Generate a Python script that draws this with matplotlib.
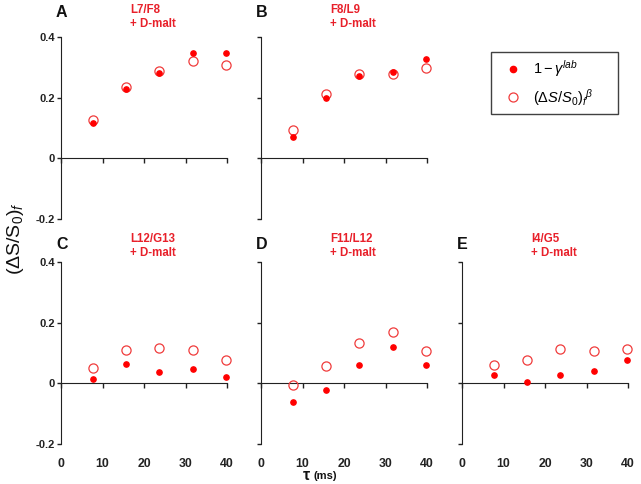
import numpy as np
import matplotlib
matplotlib.use('Agg')
import matplotlib.pyplot as plt
from matplotlib.lines import Line2D

plt.rcParams['font.family'] = ['Liberation Sans', 'DejaVu Sans']
plt.rcParams['mathtext.fontset'] = 'custom'
plt.rcParams['mathtext.rm'] = 'Liberation Sans'
plt.rcParams['mathtext.it'] = 'Liberation Sans:italic'
plt.rcParams['mathtext.bf'] = 'Liberation Sans:bold'

# mixing times (ms)
tau = [7.8, 15.7, 23.7, 31.7, 39.7]

panel_letters = ['A', 'B', 'C', 'D', 'E']
panel_titles = ['L7/F8\n+ D-malt', 'F8/L9\n+ D-malt', 'L12/G13\n+ D-malt',
                'F11/L12\n+ D-malt', 'I4/G5\n+ D-malt']

# 1 - gamma^lab (filled)
lab_A = [0.116, 0.229, 0.282, 0.347, 0.347]
lab_B = [0.070, 0.200, 0.272, 0.283, 0.327]
lab_C = [0.014, 0.063, 0.036, 0.046, 0.021]
lab_D = [-0.061, -0.022, 0.060, 0.121, 0.060]
lab_E = [0.026, 0.003, 0.026, 0.040, 0.076]

# (dS/S0)_f^beta (open)
beta_A = [0.125, 0.235, 0.287, 0.320, 0.308]
beta_B = [0.092, 0.213, 0.278, 0.277, 0.298]
beta_C = [0.050, 0.111, 0.115, 0.111, 0.076]
beta_D = [-0.006, 0.056, 0.134, 0.170, 0.105]
beta_E = [0.060, 0.076, 0.112, 0.108, 0.112]

lab_all = [lab_A, lab_B, lab_C, lab_D, lab_E]
beta_all = [beta_A, beta_B, beta_C, beta_D, beta_E]

x_ticks = [0, 10, 20, 30, 40]
y_ticks = [-0.2, 0, 0.2, 0.4]
y_ticklabels = ['-0.2', '0', '0.2', '0.4']

RED = '#ff0000'
OPEN_RED = '#f03c3c'
TXT_RED = '#e8202a'
AX_COL = '#222222'

W, H = 641, 484
fig = plt.figure(figsize=(W / 100, H / 100), dpi=100)

# axes boxes in pixels: left, top
boxes = [(61, 37), (261, 37), (61, 262), (261, 262), (462, 262)]
aw, ah = 166, 182

for i, (px, py) in enumerate(boxes):
    ax = fig.add_axes([px / W, 1 - (py + ah) / H, aw / W, ah / H])
    bottom_row = i >= 2
    ax.set_xlim(0, 40)
    ax.set_ylim(-0.2, 0.4)

    ax.plot(tau, beta_all[i], 'o', ms=6.6, mfc='none', mec=OPEN_RED, mew=0.9,
            clip_on=False, zorder=3)
    ax.plot(tau, lab_all[i], 'o', ms=3.8, color=RED, mec=RED, clip_on=False,
            zorder=4)

    for s in ['top', 'right']:
        ax.spines[s].set_visible(False)
    ax.spines['left'].set_color(AX_COL)
    ax.spines['bottom'].set_color(AX_COL)
    ax.spines['bottom'].set_position(('data', 0))

    ax.set_xticks(x_ticks)
    ax.tick_params(axis='x', direction='out', length=3.6, width=1,
                   color=AX_COL, labelbottom=False)
    ax.set_yticks(y_ticks)
    ax.tick_params(axis='y', direction='out', length=3, width=1,
                   color=AX_COL, pad=1.5)
    if i in (0, 2):
        ax.set_yticklabels(y_ticklabels, fontsize=8, fontweight='bold',
                           color=AX_COL)
    else:
        ax.set_yticklabels([])

    if bottom_row:
        sec = ax.secondary_xaxis('bottom')
        sec.spines['bottom'].set_visible(False)
        sec.set_xticks(x_ticks)
        sec.set_xticklabels([str(t) for t in x_ticks], fontsize=8.8,
                            fontweight='bold', color=AX_COL)
        sec.tick_params(axis='x', length=0, pad=10)

    letter_y = 1.096 if bottom_row else 1.135
    title_y = 1.160 if bottom_row else 1.180
    ax.text(-0.03, letter_y, panel_letters[i], transform=ax.transAxes,
            fontsize=11.5, fontweight='bold', ha='left', va='center',
            color='#111111')
    ax.text(0.415, title_y, panel_titles[i], transform=ax.transAxes,
            fontsize=8.3, fontweight='bold', color=TXT_RED, ha='left',
            va='top', linespacing=1.25)

fig.text(15 / W, 1 - 239 / H, '(ΔS/S$_0$)$_f$', rotation=90, fontsize=14,
         ha='center', va='center', color='#111111')
fig.text(303 / W, 1 - 476 / H, 'τ', fontsize=11.5, fontweight='bold',
         ha='left', va='center', color='#111111')
fig.text(314 / W, 1 - 476 / H, '(ms)', fontsize=8, fontweight='bold',
         ha='left', va='center', color='#111111')

handles = [
    Line2D([], [], ls='none', marker='o', ms=4.5, color=RED, mec=RED),
    Line2D([], [], ls='none', marker='o', ms=6.5, mfc='none', mec=OPEN_RED,
           mew=0.9),
]
labels = [r'$1-\gamma^{lab}$', r'$(\Delta S/S_0)_f{}^{\beta}$']
leg = fig.legend(handles, labels, loc='upper left', mode='expand',
                 bbox_to_anchor=(491 / W, 1 - 111 / H, 127 / W, 59 / H),
                 fontsize=10.5, frameon=True, fancybox=False,
                 edgecolor='#111111', borderpad=0.45, handletextpad=0.3,
                 labelspacing=0.5, handlelength=2.1, borderaxespad=0)
leg.get_frame().set_linewidth(1.0)

fig.savefig('out.png', dpi=100)
